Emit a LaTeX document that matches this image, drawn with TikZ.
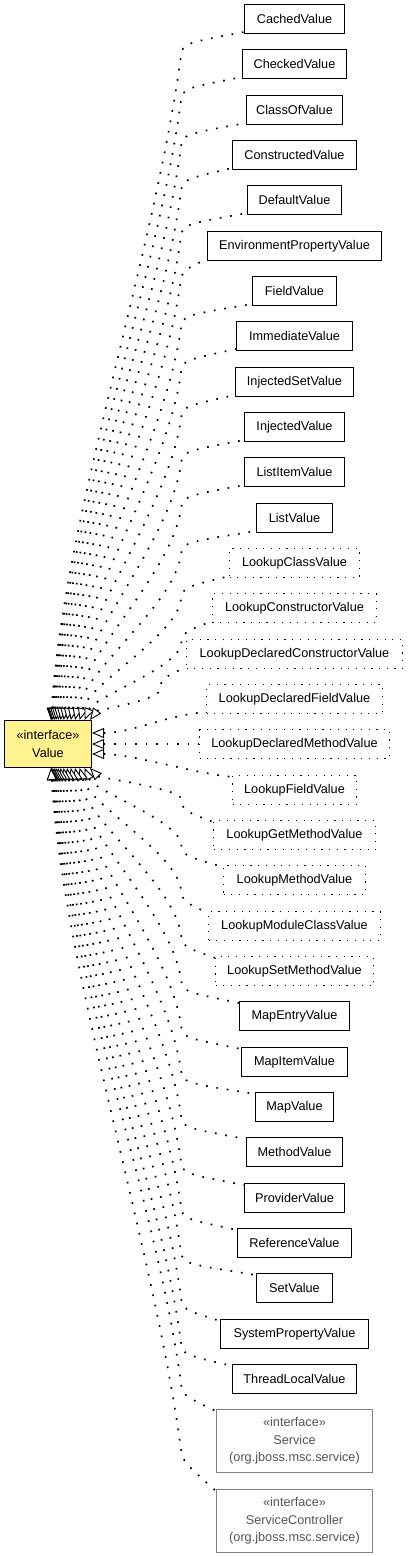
\documentclass[tikz,border=0pt]{standalone}
\usepackage{fontspec}
\setmainfont{Liberation Sans}
\usetikzlibrary{arrows.meta,calc}
\definecolor{notefill}{RGB}{255,242,143}
\definecolor{extgray}{RGB}{128,128,128}
\definecolor{exttext}{RGB}{85,85,85}
\begin{document}
\begin{tikzpicture}[x=1pt,y=-1pt,
  cls/.style={draw=black, line width=1.1pt, minimum height=29pt, inner sep=0pt,
    font=\fontsize{12.7}{15}\selectfont},
  dotcls/.style={cls, line width=1.2pt, dash pattern=on 1.2pt off 6.5pt},
  extcls/.style={draw=extgray, line width=1.1pt, minimum height=63pt, minimum width=156pt,
    inner sep=0pt, align=center, text=exttext, font=\fontsize{12.7}{17.5}\selectfont},
  iface/.style={draw=black, line width=1pt, fill=notefill, minimum width=87pt,
    minimum height=47pt, inner sep=0pt, align=center, font=\fontsize{12.7}{17.5}\selectfont},
  realize/.style={line width=1.7pt, dash pattern=on 1.7pt off 8.8pt,
    {Triangle[length=12pt,width=10pt,fill=white,line width=0.9pt]}-}
]
\useasboundingbox (0,0) rectangle (408,1557);

\node[iface] (value) at (48,744) {«interface»\\Value};

\foreach \i/\n/\w/\s in {
  0/CachedValue/100/cls, 1/CheckedValue/104/cls, 2/ClassOfValue/96/cls,
  3/ConstructedValue/124/cls, 4/DefaultValue/94/cls, 5/EnvironmentPropertyValue/174/cls,
  6/FieldValue/84/cls, 7/ImmediateValue/116/cls, 8/InjectedSetValue/118/cls,
  9/InjectedValue/100/cls, 10/ListItemValue/100/cls, 11/ListValue/76/cls,
  12/LookupClassValue/130/dotcls, 13/LookupConstructorValue/164/dotcls,
  14/LookupDeclaredConstructorValue/216/dotcls, 15/LookupDeclaredFieldValue/176/dotcls,
  16/LookupDeclaredMethodValue/190/dotcls, 17/LookupFieldValue/124/dotcls,
  18/LookupGetMethodValue/162/dotcls, 19/LookupMethodValue/142/dotcls,
  20/LookupModuleClassValue/172/dotcls, 21/LookupSetMethodValue/158/dotcls,
  22/MapEntryValue/110/cls, 23/MapItemValue/106/cls, 24/MapValue/78/cls,
  25/MethodValue/96/cls, 26/ProviderValue/100/cls, 27/ReferenceValue/114/cls,
  28/SetValue/76/cls, 29/SystemPropertyValue/148/cls, 30/ThreadLocalValue/124/cls}
  \node[\s, minimum width=\w pt] (c\i) at (294.5,{round(4+45.33*\i)+15}) {\n};

\node[extcls] (c31) at (294.5,1441) {«interface»\\Service\\(org.jboss.msc.service)};
\node[extcls] (c32) at (294.5,1521) {«interface»\\ServiceController\\(org.jboss.msc.service)};

% upper fan
\foreach \i/\w in {0/100,1/104,2/96,3/124,4/94,5/174,6/84,7/116,8/118,9/100,10/100,11/76,12/130,13/164,14/216} {
  \pgfmathsetmacro\edx{47+39*(\i/14)^2}
  \pgfmathsetmacro\sx{5+\edx}
  \pgfmathsetmacro\px{294.5-\w/2}
  \pgfmathsetmacro\py{round(4+45.33*\i)+27.5}
  \pgfmathsetmacro\tx{min(183,\px-25)}
  \pgfmathsetmacro\ty{\py+12}
  \pgfmathsetmacro\qx{\tx-2}
  \pgfmathsetmacro\qy{\ty+12}
  \pgfmathsetmacro\ha{721-\qy}
  \pgfmathsetmacro\wa{\qx-\sx}
  \draw[realize] ([xshift=\edx pt]value.north west)
    .. controls +({0.1*\wa},{-0.3*\ha}) and ({\qx-0.04*\ha},{\qy+0.3*\ha}) .. (\qx,\qy)
    .. controls (\tx,\ty) .. ([yshift=2pt]c\i.south west);
}
% middle
\draw[realize] ([yshift=11pt]value.east) .. controls +(40,0) and +(-40,3) .. ([yshift=2pt]c15.south west);
\draw[realize] (value.east) -- (value.east -| c16.west);
\draw[realize] ([yshift=-10pt]value.east) .. controls +(40,0) and +(-40,-4) .. ([yshift=-2pt]c17.north west);
% lower fan
\foreach \i/\w/\dy/\pyo in {18/162/12/0,19/142/12/0,20/172/12/0,21/158/12/0,
  22/110/12/0,23/106/12/0,24/78/12/0,25/96/12/0,26/100/12/0,
  27/114/12/0,28/76/12/0,29/148/12/0,30/124/12/0,
  31/156/16/1411.5,32/156/30/1491.5} {
  \pgfmathsetmacro\edx{47+39*((32-\i)/14)^2}
  \pgfmathsetmacro\sx{5+\edx}
  \pgfmathsetmacro\px{294.5-\w/2}
  \pgfmathsetmacro\py{\pyo>0 ? \pyo : round(4+45.33*\i)+2.5}
  \pgfmathsetmacro\tx{min(183,\px-25)}
  \pgfmathsetmacro\ty{\py-\dy}
  \pgfmathsetmacro\qx{\tx-2}
  \pgfmathsetmacro\qy{\ty-12}
  \pgfmathsetmacro\ha{\qy-767}
  \pgfmathsetmacro\wa{\qx-\sx}
  \draw[realize] ([xshift=\edx pt]value.south west)
    .. controls +({0.1*\wa},{0.3*\ha}) and ({\qx-0.04*\ha},{\qy-0.3*\ha}) .. (\qx,\qy)
    .. controls (\tx,\ty) .. ([yshift=-2pt]c\i.north west);
}
\end{tikzpicture}
\end{document}
